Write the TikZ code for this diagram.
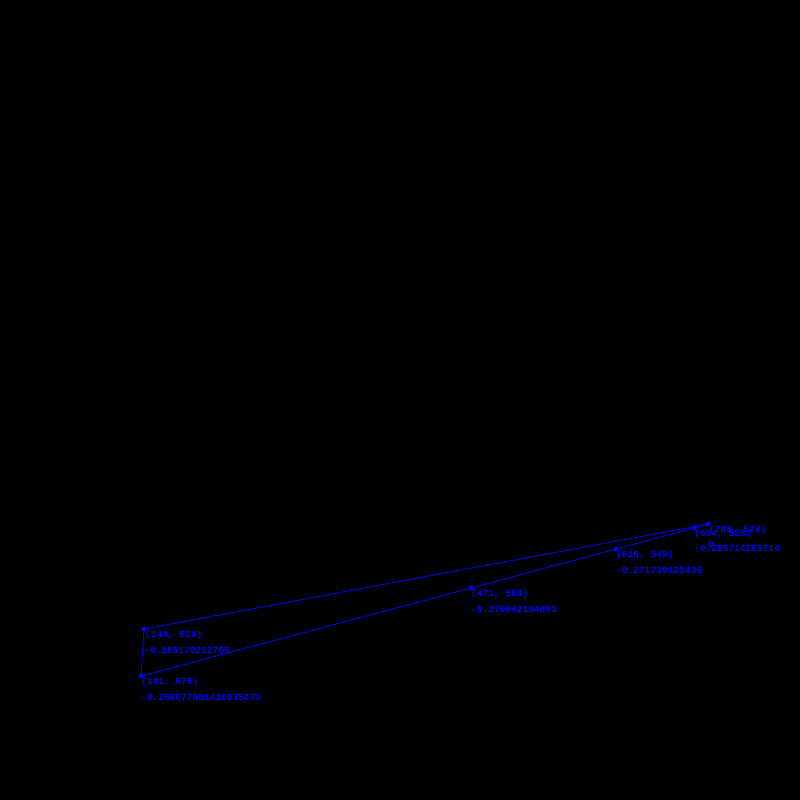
\documentclass[tikz,border=0pt]{standalone}
\usepackage{fontspec}
\setmonofont{Liberation Mono}
\begin{document}
\begin{tikzpicture}[x=1pt,y=-1pt,
  edge/.style={draw=blue,line width=0.8pt},
  dot/.style={circle,fill=blue,inner sep=0pt,minimum size=5pt},
  lbl/.style={anchor=west,inner sep=0pt,text=blue,font=\ttfamily\bfseries\fontsize{9.5}{10}\selectfont}]
\fill[black] (0,0) rectangle (800,800);
\useasboundingbox (0,0) rectangle (800,800);
\coordinate (p1) at (141,676);
\coordinate (p2) at (144,629);
\coordinate (p3) at (471,588);
\coordinate (p4) at (616,549);
\coordinate (p5) at (694,528);
\coordinate (p6) at (708,524);
\draw[edge] (p1) -- (p3) -- (p4) -- (p5) -- (p6) -- (p2) -- (p1);
\foreach \p in {p1,p2,p3,p4,p5,p6} \node[dot] at (\p) {};
\node[lbl] (a1) at (141,682) {(141, 676)};
\node[lbl] (b1) at (141,697) {-0.268077601410935473};
\node[lbl] (a2) at (145,635) {(144, 629)};
\node[lbl] (b2) at (144,650) {-0.186170212766};
\node[lbl] (a3) at (471,594) {(471, 588)};
\node[lbl] (b3) at (471,609) {-0.270042194093};
\node[lbl] (a4) at (616,555) {(616, 549)};
\node[lbl] (b4) at (616,570) {-0.271739130435};
\node[lbl] (a5) at (694,534) {(694, 528)};
\node[lbl] (b5) at (694,548) {-0.285714285714};
\node[lbl] (a6) at (709,530) {(708, 524)};
\node[lbl] (b6) at (708,544) {0};
\end{tikzpicture}
\end{document}
